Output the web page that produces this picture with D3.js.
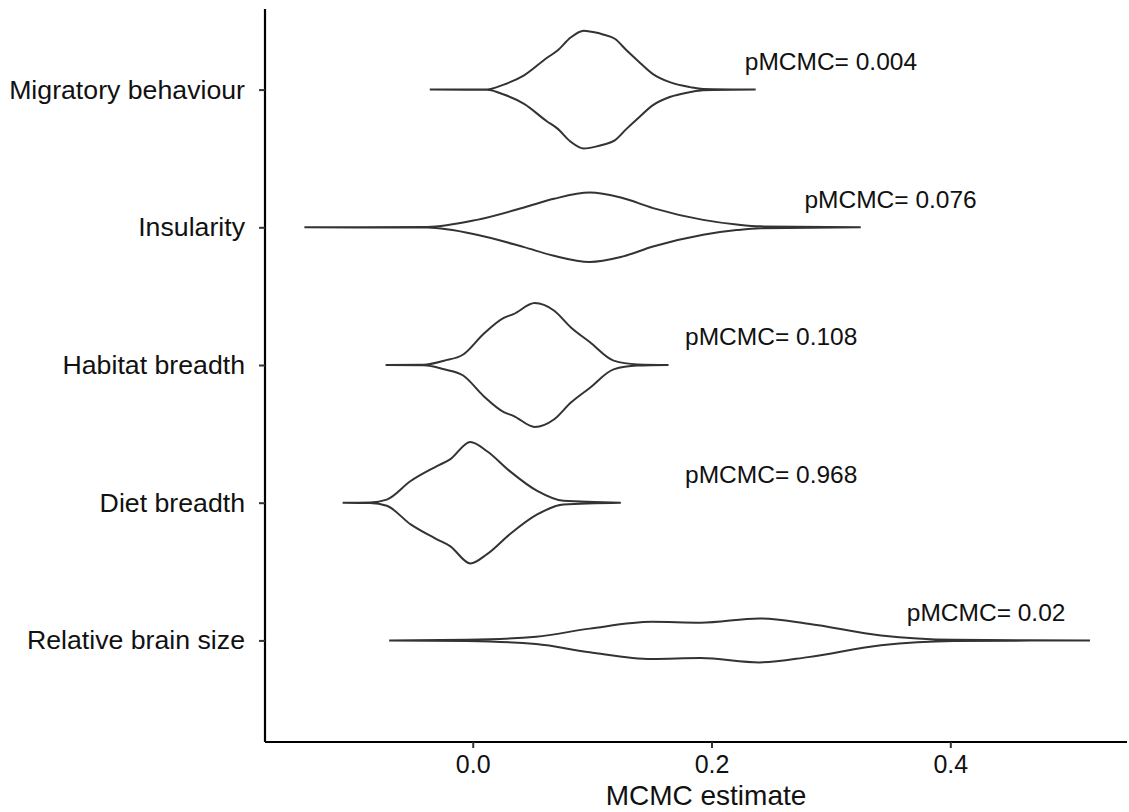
<!DOCTYPE html>
<html>
<head>
<meta charset="utf-8">
<script src="https://cdn.jsdelivr.net/npm/d3@7"></script>
<style>
  body { margin: 0; background: #fff; }
  text { font-family: "Liberation Sans", Arial, Helvetica, sans-serif; }
</style>
</head>
<body>
<div id="container"></div>
<script>
/* CONSTANTS */
const width = 1129,
    height = 812,
    margin = { top: 9, bottom: 70, left: 265, right: 2 };
// first and last category centres (the top of the panel is cropped in the original)
const catTop = 89.6,
    catBottom = 640.4;

/* DATA */
const categories = ["Migratory behaviour", "Insularity", "Habitat breadth", "Diet breadth", "Relative brain size"];
const pLabels = ["pMCMC= 0.004", "pMCMC= 0.076", "pMCMC= 0.108", "pMCMC= 0.968", "pMCMC= 0.02"];
const pLabelX = [0.30, 0.35, 0.25, 0.25, 0.43];
const xTicks = [0.0, 0.2, 0.4];
const xDomain = [-0.174, 0.548];

// violin outlines: [estimate, relative half-width]
const migratory = [[-0.036,0],[0.012,0.003],[0.026,0.08],[0.043,0.23],[0.062,0.51],[0.071,0.63],[0.082,0.84],[0.093,0.95],[0.103,0.92],[0.109,0.89],[0.119,0.82],[0.129,0.63],[0.138,0.47],[0.151,0.25],[0.165,0.12],[0.182,0.04],[0.193,0.01],[0.237,0]];
const insularity = [[-0.141,0],[-0.038,0.005],[0.0035,0.12],[0.043,0.32],[0.068,0.46],[0.098,0.56],[0.124,0.48],[0.151,0.31],[0.193,0.12],[0.221,0.045],[0.241,0.015],[0.325,0]];
const habitat = [[-0.073,0],[-0.041,0.005],[-0.024,0.07],[-0.008,0.17],[0.009,0.50],[0.026,0.76],[0.034,0.82],[0.052,1.0],[0.068,0.88],[0.082,0.61],[0.098,0.37],[0.118,0.07],[0.138,0.01],[0.164,0]];
const diet = [[-0.109,0],[-0.086,0.005],[-0.072,0.05],[-0.052,0.35],[-0.030,0.59],[-0.019,0.70],[-0.002,0.98],[0.012,0.83],[0.031,0.51],[0.054,0.19],[0.076,0.03],[0.124,0]];
const brain = [[-0.070,0],[-0.005,0.01],[0.053,0.06],[0.098,0.19],[0.150,0.30],[0.191,0.285],[0.240,0.355],[0.281,0.27],[0.342,0.08],[0.403,0.01],[0.517,0]];
const violins = [migratory, insularity, habitat, diet, brain];

let svg, xScale, yScale, wScale;

function init() {
    svg = d3.select("#container")
        .append("svg")
        .attr("width", width)
        .attr("height", height)

    xScale = d3.scaleLinear()
        .domain(xDomain)
        .range([margin.left, width - margin.right])

    yScale = d3.scalePoint()
        .domain(categories)
        .range([catTop, catBottom])

    // half-width: 0.45 of the category step at full density
    wScale = d3.scaleLinear()
        .domain([0, 1])
        .range([0, yScale.step() * 0.45])

    draw();
}

function draw() {
    const areaGen = d3.area()
        .curve(d3.curveMonotoneX)

    svg.selectAll("path.violin")
        .data(violins)
        .join("path")
        .attr("class", "violin")
        .attr("fill", "white")
        .attr("stroke", "#333")
        .attr("stroke-width", 2)
        .attr("d", (d, i) => {
            const cy = yScale(categories[i]);
            return areaGen
                .x(p => xScale(p[0]))
                .y0(p => cy + wScale(p[1]))
                .y1(p => cy - wScale(p[1]))(d);
        })

    svg.selectAll("text.pval")
        .data(pLabels)
        .join("text")
        .attr("class", "pval")
        .attr("x", (d, i) => xScale(pLabelX[i]))
        .attr("y", (d, i) => yScale(categories[i]) - yScale.step() * 0.19)
        .attr("text-anchor", "middle")
        .attr("dominant-baseline", "middle")
        .attr("font-size", 24.5)
        .attr("fill", "#111")
        .text(d => d)

    const yAxis = d3.axisLeft(yScale).tickSize(6).tickPadding(14)
    const yAxisGroup = svg.append("g")
        .attr("class", "y-axis")
        .attr("transform", `translate(${margin.left},0)`)
        .call(yAxis)
    yAxisGroup.select(".domain").attr("d", `M0,${margin.top}V${height - margin.bottom}`)

    const xAxis = d3.axisBottom(xScale)
        .tickValues(xTicks)
        .tickFormat(d3.format(".1f"))
        .tickSize(6)
        .tickPadding(7)
    const xAxisGroup = svg.append("g")
        .attr("class", "x-axis")
        .attr("transform", `translate(0,${height - margin.bottom})`)
        .call(xAxis)
    xAxisGroup.select(".domain").attr("d", `M${margin.left},0H${width - margin.right}`)

    svg.selectAll(".domain")
        .attr("stroke", "black")
        .attr("stroke-width", 2.2)
    svg.selectAll(".tick line")
        .attr("stroke", "#333")
        .attr("stroke-width", 2)
    svg.selectAll(".y-axis .tick text")
        .attr("font-size", 26.7)
    svg.selectAll(".x-axis .tick text")
        .attr("font-size", 25)
    svg.selectAll(".tick text")
        .attr("fill", "#111")
        .attr("font-family", "'Liberation Sans', Arial, sans-serif")

    svg.append("text")
        .attr("class", "x-title")
        .attr("x", 706)
        .attr("y", height - 7)
        .attr("text-anchor", "middle")
        .attr("font-size", 28)
        .attr("fill", "#111")
        .text("MCMC estimate")
}

init();
</script>
</body>
</html>
